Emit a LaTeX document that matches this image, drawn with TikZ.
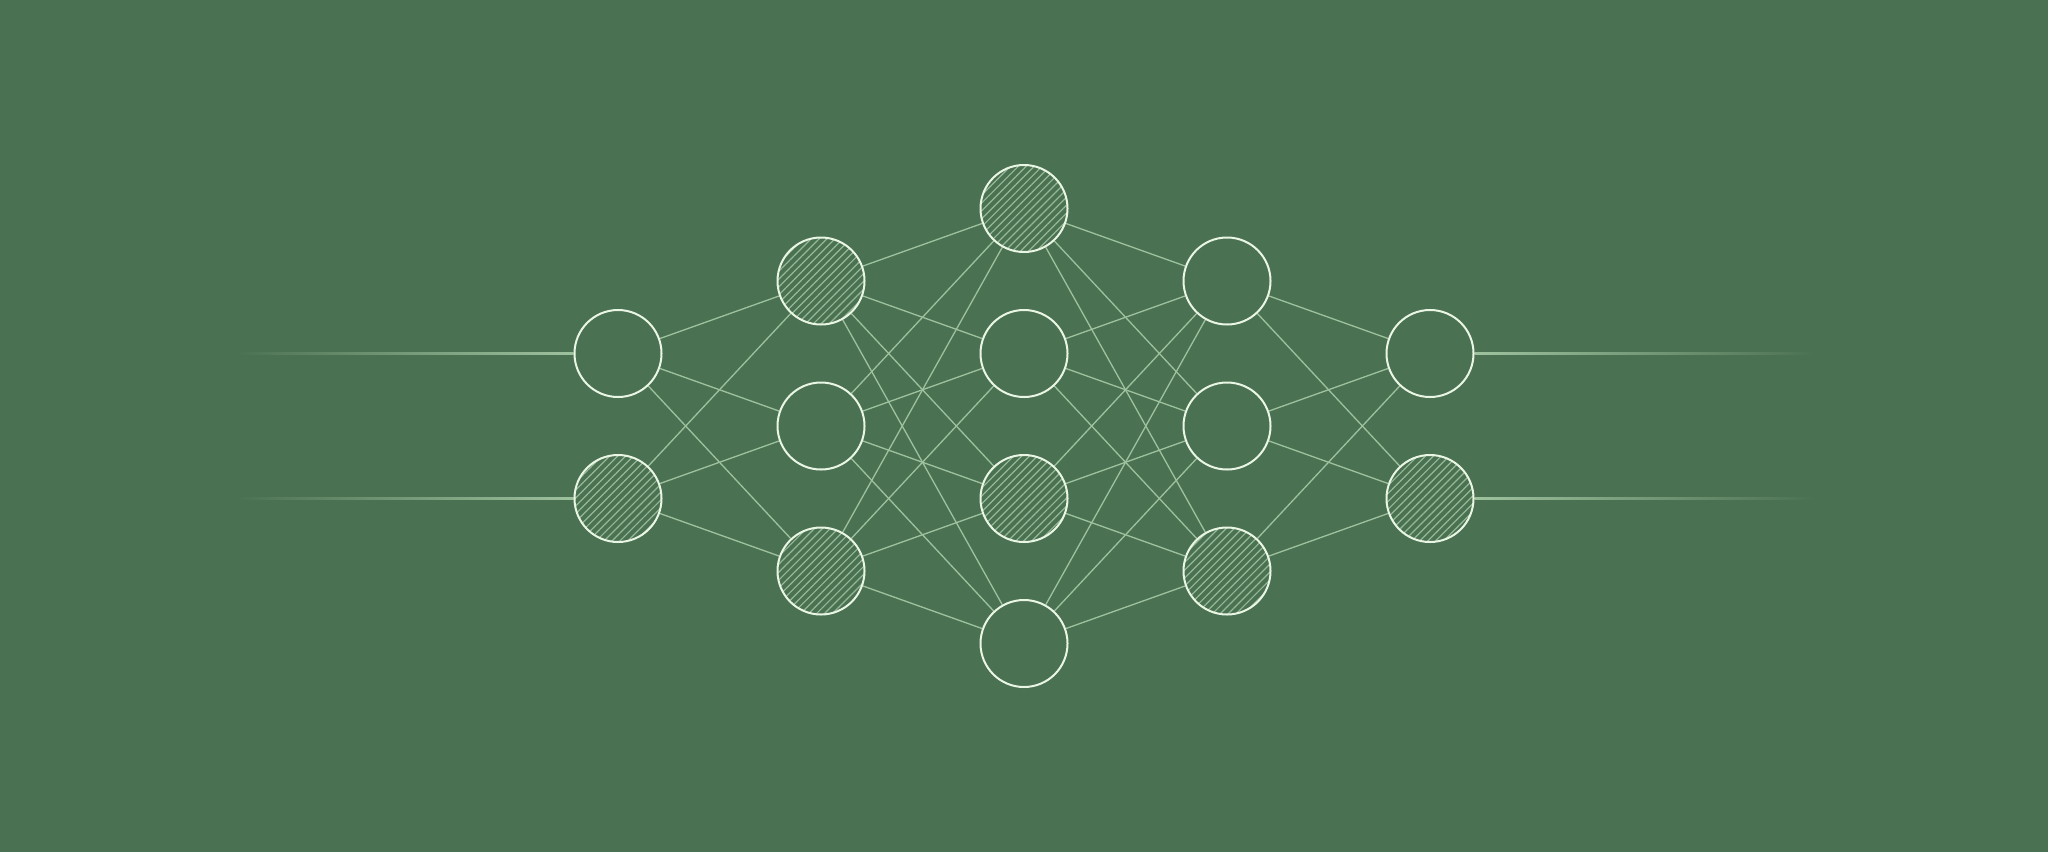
\documentclass[tikz,border=0pt]{standalone}
\usetikzlibrary{patterns.meta}
\definecolor{bg}{RGB}{75,113,83}
\definecolor{edgecol}{RGB}{158,194,158}
\definecolor{nodecol}{RGB}{234,246,228}
\definecolor{hatchcol}{RGB}{150,186,150}
\pgfdeclarelayer{back}
\pgfsetlayers{back,main}
\tikzset{
  neuron/.style={circle, draw=nodecol, line width=1pt, fill=bg, minimum size=43.5pt, inner sep=0pt},
  hatched/.style={neuron, preaction={fill=bg}, pattern={Lines[angle=45,distance=2.8pt,line width=0.6pt]}, pattern color=hatchcol},
  link/.style={draw=edgecol, line width=0.65pt},
  fadein/.style={left color=bg, middle color=edgecol!75!bg, right color=edgecol},
  fadeout/.style={right color=bg, middle color=edgecol!75!bg, left color=edgecol}
}
\begin{document}
\begin{tikzpicture}[x=0.5pt,y=-0.5pt]
\begin{pgfonlayer}{back}
\fill[bg] (0,0) rectangle (2048,852);
\end{pgfonlayer}
\useasboundingbox (0,0) rectangle (2048,852);
% layer 1
\node[neuron]  (a1) at (618,353.5) {};
\node[hatched] (a2) at (618,498.5) {};
% layer 2
\node[hatched] (b1) at (821,281) {};
\node[neuron]  (b2) at (821,426) {};
\node[hatched] (b3) at (821,571) {};
% layer 3
\node[hatched] (c1) at (1024,208.5) {};
\node[neuron]  (c2) at (1024,353.5) {};
\node[hatched] (c3) at (1024,498.5) {};
\node[neuron]  (c4) at (1024,643.5) {};
% layer 4
\node[neuron]  (d1) at (1227,281) {};
\node[neuron]  (d2) at (1227,426) {};
\node[hatched] (d3) at (1227,571) {};
% layer 5
\node[neuron]  (e1) at (1430,353.5) {};
\node[hatched] (e2) at (1430,498.5) {};
% free ends of input / output lines
\coordinate (in1) at (235,353.5);
\coordinate (in2) at (235,498.5);
\coordinate (out1) at (1815,353.5);
\coordinate (out2) at (1815,498.5);
\begin{pgfonlayer}{back}
\foreach \s in {a1,a2}\foreach \t in {b1,b2,b3}{\draw[link] (\s) -- (\t);}
\foreach \s in {b1,b2,b3}\foreach \t in {c1,c2,c3,c4}{\draw[link] (\s) -- (\t);}
\foreach \s in {c1,c2,c3,c4}\foreach \t in {d1,d2,d3}{\draw[link] (\s) -- (\t);}
\foreach \s in {d1,d2,d3}\foreach \t in {e1,e2}{\draw[link] (\s) -- (\t);}
\shade[fadein] ([yshift=0.65pt]in1) rectangle ([yshift=-0.65pt]a1.west);
\shade[fadein] ([yshift=0.65pt]in2) rectangle ([yshift=-0.65pt]a2.west);
\shade[fadeout] ([yshift=0.65pt]e1.east) rectangle ([yshift=-0.65pt]out1);
\shade[fadeout] ([yshift=0.65pt]e2.east) rectangle ([yshift=-0.65pt]out2);
\end{pgfonlayer}
\end{tikzpicture}
\end{document}
